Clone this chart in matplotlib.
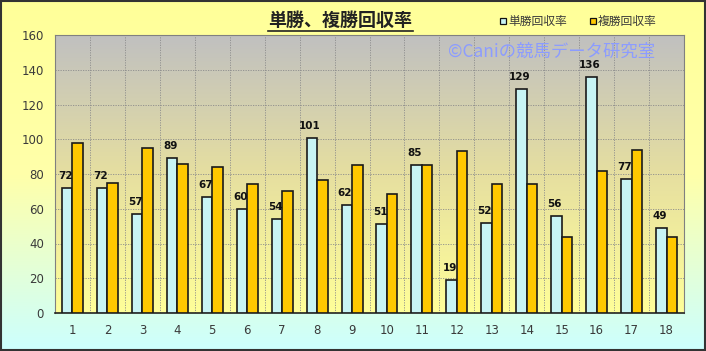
import numpy as np
import matplotlib
matplotlib.use("Agg")
import matplotlib.pyplot as plt
from matplotlib.patches import Rectangle
from matplotlib.colors import LinearSegmentedColormap

plt.rcParams["font.family"] = ["Noto Sans CJK JP", "DejaVu Sans"]

# data
categories = [str(i) for i in range(1, 19)]
tansho = [72, 72, 57, 89, 67, 60, 54, 101, 62, 51, 85, 19, 52, 129, 56, 136, 77, 49]
fukusho = [98, 75, 95, 86, 84, 74.5, 70, 76.5, 85, 68.5, 85, 93.5, 74, 74.5, 44, 81.5, 94, 44]
yticks = [0, 20, 40, 60, 80, 100, 120, 140, 160]

TEXT = "#3A3A3A"
BLUE = "#C8F4F4"
GOLD = "#FFC800"

fig = plt.figure(figsize=(7.06, 3.51), dpi=100)

# figure background gradient (yellow top -> cyan bottom)
bg = fig.add_axes([0, 0, 1, 1], zorder=-10)
bg_cmap = LinearSegmentedColormap.from_list("bg", ["#FFFF99", "#FFFFAA", "#CCFFFF"])
bg.imshow(np.linspace(0, 1, 256).reshape(-1, 1), aspect="auto", cmap=bg_cmap,
          extent=[0, 1, 0, 1], origin="upper")
bg.set_axis_off()
bg.add_patch(Rectangle((0.0015, 0.003), 0.997, 0.994, transform=bg.transAxes,
                       fill=False, edgecolor="#333333", linewidth=1.5))

# plot area: x 55..684, y 35..313 (pixels)
W, H = 706, 351
ax = fig.add_axes([55 / W, 1 - 313 / H, (684 - 55) / W, (313 - 35) / H])
ax.set_xlim(0.5, 18.5)
ax.set_ylim(0, 160)

plot_cmap = LinearSegmentedColormap.from_list("pa", ["#C0C0C0", "#E6DFA0", "#FFFF99"])
ax.imshow(np.linspace(0, 1, 256).reshape(-1, 1), aspect="auto", cmap=plot_cmap,
          extent=[0.5, 18.5, 0, 160], origin="upper", zorder=0)

# grid
for y in yticks[1:-1]:
    ax.axhline(y, color="#8C8C8C", linestyle=(0, (1.5, 1.5)), linewidth=0.6, zorder=1)
for x in np.arange(1.5, 18.5, 1):
    ax.axvline(x, color="#8C8C8C", linestyle=(0, (1.5, 1.5)), linewidth=0.6, zorder=1)

x = np.arange(1, 19)
bw = 0.3
ax.bar(x - bw / 2, tansho, width=bw, color=BLUE, edgecolor="#1A1A1A", linewidth=1.2, zorder=3)
ax.bar(x + bw / 2, fukusho, width=bw, color=GOLD, edgecolor="#1A1A1A", linewidth=1.2, zorder=3)

for xi, v in zip(x, tansho):
    ax.text(xi - bw / 2 - 0.05, v + 4, str(v), ha="center", va="bottom",
            fontsize=7.5, fontweight="bold", color="#111111", zorder=4,
            family="DejaVu Sans")

ax.set_xticks(x)
ax.set_xticklabels(categories)
ax.set_yticks(yticks)
ax.tick_params(axis="both", length=0, labelsize=8.5, colors=TEXT, pad=8)
for lab in ax.get_xticklabels() + ax.get_yticklabels():
    lab.set_family("DejaVu Sans")
for s in ax.spines.values():
    s.set_color("#808080")
    s.set_linewidth(0.8)
ax.spines["bottom"].set_color("#222222")
ax.spines["bottom"].set_linewidth(1.2)

# title
fig.text(340 / W, 1 - 20 / H, "単勝、複勝回収率", ha="center", va="center",
         fontsize=13, fontweight="bold", color="#222222")
fig.add_artist(plt.Line2D([268 / W, 413 / W], [1 - 31 / H, 1 - 31 / H],
                          color="#222222", linewidth=1.2))

# legend
for sx, label, col in [(503, "単勝回収率", BLUE), (593, "複勝回収率", GOLD)]:
    fig.add_artist(Rectangle((sx / W - 3 / W, 1 - 24 / H), 6 / W, 6 / H,
                             facecolor=col, edgecolor="#111111", linewidth=0.9))
    fig.text((sx + 5) / W, 1 - 21 / H, label, ha="left", va="center",
             fontsize=8.5, color=TEXT)

# watermark
fig.text(552 / W, 1 - 52 / H, "©Caniの競馬データ研究室", ha="center", va="center",
         fontsize=12.5, color="#8C9CFF", zorder=5)

fig.savefig("out.png", dpi=100)
